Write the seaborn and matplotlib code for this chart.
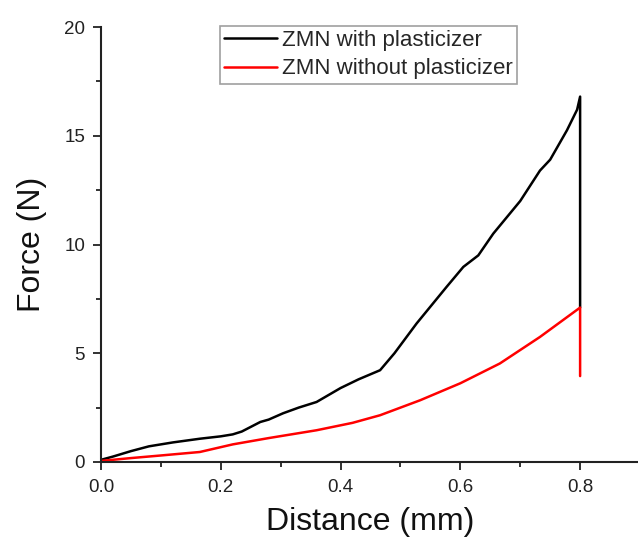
import matplotlib
matplotlib.use("Agg")
import matplotlib.pyplot as plt
import seaborn as sns
import pandas as pd
from matplotlib.ticker import MultipleLocator

# Data
with_x = [0.0, 0.02, 0.05, 0.08, 0.12, 0.165, 0.20, 0.22, 0.235, 0.266, 0.28, 0.304,
          0.33, 0.36, 0.40, 0.43, 0.466, 0.49, 0.527, 0.577, 0.605, 0.63, 0.655,
          0.70, 0.733, 0.75, 0.778, 0.795, 0.80, 0.80]
with_y = [0.1, 0.25, 0.5, 0.72, 0.9, 1.07, 1.18, 1.27, 1.4, 1.84, 1.95, 2.24,
          2.5, 2.76, 3.4, 3.8, 4.22, 5.0, 6.37, 8.05, 8.97, 9.5, 10.5,
          12.0, 13.4, 13.9, 15.25, 16.2, 16.8, 7.1]
without_x = [0.0, 0.05, 0.10, 0.165, 0.22, 0.28, 0.36, 0.42, 0.466, 0.533, 0.60,
             0.666, 0.733, 0.80, 0.80]
without_y = [0.05, 0.18, 0.3, 0.46, 0.81, 1.1, 1.46, 1.8, 2.15, 2.84, 3.62,
             4.53, 5.75, 7.1, 3.95]
labels = ["ZMN with plasticizer", "ZMN without plasticizer"]
xtick_labels = ["0.0", "0.2", "0.4", "0.6", "0.8"]

sns.set_style("ticks")
plt.rcParams['font.family'] = ['Liberation Sans', 'DejaVu Sans']

fig = plt.figure(figsize=(6.38, 5.4), dpi=100)
ax = fig.add_axes([101/638, 78/540, (640-101)/638, (462-27)/540])

df1 = pd.DataFrame({"x": with_x, "y": with_y})
df2 = pd.DataFrame({"x": without_x, "y": without_y})
sns.lineplot(data=df1, x="x", y="y", sort=False, estimator=None, color="black",
             linewidth=1.8, ax=ax, label=labels[0])
sns.lineplot(data=df2, x="x", y="y", sort=False, estimator=None, color="#ff0000",
             linewidth=1.8, ax=ax, label=labels[1])

ax.set_xlim(0, 0.9)
ax.set_ylim(0, 20)
ax.xaxis.set_minor_locator(MultipleLocator(0.1))
ax.yaxis.set_major_locator(MultipleLocator(5))
ax.yaxis.set_minor_locator(MultipleLocator(2.5))
ax.set_xticks([0, 0.2, 0.4, 0.6, 0.8])
ax.set_xticklabels(xtick_labels)
ax.tick_params(which="major", direction="out", length=6, width=1.3, labelsize=13.5,
               color="#222222", labelcolor="#222222")
ax.tick_params(axis="x", which="major", pad=6)
ax.tick_params(axis="y", which="major", pad=5.5)
ax.tick_params(which="minor", direction="out", length=3.5, width=1.3, color="#222222")
for s in ["top", "right"]:
    ax.spines[s].set_visible(False)
for s in ["left", "bottom"]:
    ax.spines[s].set_linewidth(1.5)
    ax.spines[s].set_color("#222222")

ax.set_xlabel("Distance (mm)", fontsize=23, labelpad=8, color="#111111")
ax.set_ylabel("Force (N)", fontsize=23, labelpad=12, color="#111111")

leg = ax.legend(loc="upper left", bbox_to_anchor=((220-101)/539, 1.003), fontsize=16,
                frameon=True, fancybox=False, edgecolor="#888888", handlelength=2.35,
                labelspacing=0.33, borderpad=0.2, handletextpad=0.25, borderaxespad=0)
leg.get_frame().set_linewidth(1.2)

fig.savefig("out.png", dpi=100, facecolor="white")
